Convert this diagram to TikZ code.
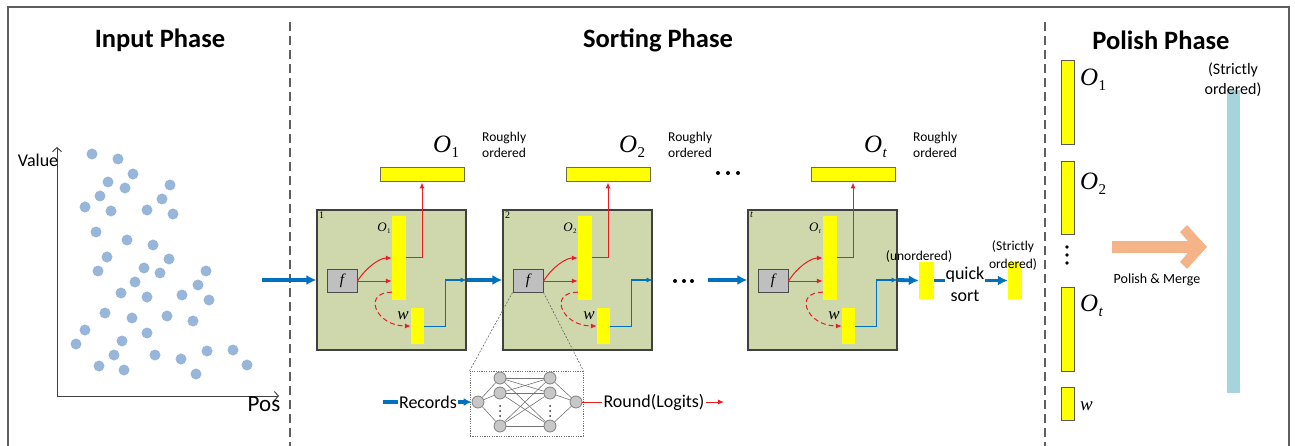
\documentclass[tikz,border=0pt]{standalone}
\usepackage{fontspec}
\setmainfont{Carlito}
\newfontfamily\tnr{Liberation Serif}
\usetikzlibrary{arrows.meta,calc}

\definecolor{dotblue}{RGB}{152,182,218}
\definecolor{stagegreen}{RGB}{206,216,172}
\definecolor{arrowblue}{RGB}{0,112,192}
\definecolor{barred}{RGB}{235,28,36}
\definecolor{baryellow}{RGB}{255,255,0}
\definecolor{mergeorange}{RGB}{244,180,136}
\definecolor{strictteal}{RGB}{165,213,218}
\definecolor{framegray}{RGB}{95,95,95}

% italic O with a subscript: #1 size of O, #2 size of index, #3 index, #4 drop of index
\newcommand\Olab[4]{{\tnr\fontsize{#1}{#1}\selectfont\itshape O}\kern0.3pt\raisebox{-#4pt}{\tnr\fontsize{#2}{#2}\selectfont #3}}

% one sorting stage: #1 name prefix, #2 left edge, #3 corner label, #4 index
\newcommand\stage[4]{%
\begin{scope}[shift={(#2,0)}]
  \node[greenbox] (#1box) at (74.5,280) {};
  \node[numlab] (#1num) at (2,212) {#3};
  \node[fbox] (#1f) at (25,281) {\tnr\itshape\fontsize{15}{15}\selectfont f};
  \node[ybar, minimum width=14pt, minimum height=84pt] (#1o) at (82,258) {};
  \node[ybar, minimum width=13pt, minimum height=36pt] (#1w) at (100.5,326) {};
  \node[topbar] (#1top) at (105,175) {};
  \node[inner sep=0] (#1ol) at (67,228) {\Olab{13}{7}{#4}{2.5}};
  \node[inner sep=0] (#1wl) at (86,316) {\tnr\itshape\fontsize{17}{17}\selectfont w};
  \node[inner sep=0, anchor=base west] (#1big) at (116,153) {\Olab{25}{15}{#4}{5}};
  \node[rough] (#1rough) at (165,132) {Roughly\\ordered};
  \draw[redarrow] (#1f.east) .. controls +(9,-14) and +(-12,0) .. (#1o.west);
  \draw[redarrow] (#1f.east) -- (#1f.east -| #1o.west);
  \draw[redarrow] (#1o.east) -| (#1top.south);
  \draw[reddash] ([yshift=8pt]#1o.south west) .. controls +(-30,0) and +(-35,0) .. (#1w.west);
  \draw[bluethin] (#1w.east) -- ++(21,0) |- (#1box.east);
\end{scope}}

\begin{document}
\begin{tikzpicture}[x=1pt,y=-1pt,
  frameline/.style={draw=framegray, line width=1.8pt},
  sepline/.style={draw=framegray, line width=1.2pt, dash pattern=on 9pt off 5pt},
  title/.style={font=\bfseries\fontsize{26.5}{26.5}\selectfont, inner sep=0},
  dot/.style={circle, fill=dotblue, inner sep=0, minimum size=11pt},
  axis/.style={draw=black!75, line width=0.9pt, -{Straight Barb[length=4pt,width=9pt]}},
  greenbox/.style={draw=black!75, line width=1.3pt, fill=stagegreen, minimum width=149pt, minimum height=140pt, inner sep=0},
  numlab/.style={anchor=north west, inner sep=0, font=\tnr\fontsize{10}{10}\selectfont},
  fbox/.style={draw=black!70, fill=black!25, line width=1pt, minimum width=30pt, minimum height=22pt, inner sep=0},
  ybar/.style={fill=baryellow, inner sep=0},
  topbar/.style={fill=baryellow, draw=black!65!yellow, line width=1pt, minimum width=84pt, minimum height=14pt, inner sep=0},
  pbar/.style={fill=baryellow, draw=black!65, line width=0.9pt, minimum width=13pt, inner sep=0},
  rough/.style={anchor=north west, align=left, inner sep=0, font=\fontsize{13.5}{16}\selectfont},
  redarrow/.style={draw=barred, line width=1pt, -{Latex[length=6pt,width=5pt]}},
  redline/.style={draw=barred, line width=1pt},
  reddash/.style={draw=barred, line width=1pt, dash pattern=on 5pt off 3pt, -{Latex[length=6pt,width=5pt]}},
  bluethin/.style={draw=arrowblue, line width=1pt, -{Latex[length=6pt,width=5pt]}},
  thickblue/.style={draw=arrowblue, line width=3.8pt, -{Latex[length=10pt,width=10pt]}},
  thickbar/.style={draw=arrowblue, line width=3.8pt},
  bdot/.style={circle, fill=black, inner sep=0, minimum size=4pt},
  sdot/.style={circle, fill=black!80, inner sep=0, minimum size=2pt},
  neuron/.style={circle, draw=black!50, fill=black!22, line width=0.8pt, minimum size=12pt, inner sep=0},
  link/.style={draw=black!55, line width=0.6pt},
  zoomline/.style={draw=black!60, line width=0.6pt, dash pattern=on 2pt off 1.5pt},
  txt/.style={inner sep=0}
]
\useasboundingbox (0,0) rectangle (1295,446);

% frame and phase separators
\draw[frameline] (8,446) -- (8,7) -- (1289,7) -- (1289,446);
\coordinate (sepA0) at (290,22); \coordinate (sepA1) at (290,446);
\coordinate (sepB0) at (1045,22); \coordinate (sepB1) at (1045,446);
\draw[sepline] (sepA0) -- (sepA1);
\draw[sepline] (sepB0) -- (sepB1);

\node[title] (t1) at (160,40) {Input Phase};
\node[title] (t2) at (658,40) {Sorting Phase};
\node[title] (t3) at (1161,40) {Polish Phase};

% ---- input phase: scatter of records
\foreach \x/\y [count=\i] in {92/154,118/159,133/174,108/182,125/188,170/185,100/196,162/199,
  85/207,111/211,147/210,173/214,96/232,127/240,153/245,107/257,169/259,98/271,144/268,160/273,
  206/271,135/282,198/285,121/293,147/297,182/295,209/300,105/313,132/318,167/316,193/321,85/330,
  147/333,76/344,122/341,114/355,155/355,207/351,233/350,99/366,124/370,181/359,196/374,247/365}
  \node[dot] (p\i) at (\x,\y) {};

\coordinate (origin) at (57,396);
\coordinate (ytip) at (57,147);
\coordinate (xtip) at (279,396);
\draw[axis] (origin) -- (ytip);
\draw[axis] (origin) -- (xtip);
\node[txt, font=\fontsize{18}{18}\selectfont] (vlab) at (38,160) {Value};
\node[txt, font=\fontsize{23}{23}\selectfont] (plab) at (264,404) {Pos};

% ---- sorting phase
\stage{s1}{317}{1}{1}
\stage{s2}{503}{2}{2}
\stage{st}{748}{\itshape t}{\itshape t}

\coordinate (in0) at (262,280);
\draw[thickblue] (in0) -- (s1box.west);
\draw[thickblue] (s1box.east) -- (s2box.west);

\node[bdot] (m1) at (675,281) {};
\node[bdot] (m2) at (684,281) {};
\node[bdot] (m3) at (692,281) {};
\node[bdot] (u1) at (718,173) {};
\node[bdot] (u2) at (728,173) {};
\node[bdot] (u3) at (738,173) {};
\coordinate (pre) at (708,280);
\draw[thickblue] (pre) -- (stbox.west);

\node[ybar, minimum width=15pt, minimum height=37pt] (ub) at (926.5,280.5) {};
\node[ybar, minimum width=14pt, minimum height=37pt] (sb) at (1015,280.5) {};
\node[txt, font=\fontsize{13.5}{13.5}\selectfont] (unord) at (919,256) {(unordered)};
\node[txt, align=center, font=\fontsize{18}{22}\selectfont] (qs) at (965,284) {quick\\sort};
\node[txt, align=center, font=\fontsize{13.5}{18}\selectfont] (strict1) at (1013,256) {(Strictly\\ordered)};
\draw[thickblue] (stbox.east) -- (ub.west);
\draw[thickbar] (ub.east) -- (ub.east -| qs.west);
\draw[thickblue] (sb.west -| qs.east) -- (sb.west);

% network behind the scoring function
\node[draw=black!55, line width=0.7pt, dash pattern=on 1.2pt off 1.2pt, minimum width=113pt, minimum height=65pt, inner sep=0] (nnbox) at (526.5,403.5) {};
\draw[zoomline] (s2f.south west) -- (nnbox.north west);
\draw[zoomline] (s2f.south east) -- (nnbox.north east);
\node[neuron] (nin) at (478,402) {};
\node[neuron] (ha) at (500,378) {};
\node[neuron] (hb) at (500,393) {};
\node[neuron] (hc) at (500,426) {};
\node[neuron] (ga) at (550,378) {};
\node[neuron] (gb) at (550,393) {};
\node[neuron] (gc) at (550,426) {};
\node[neuron] (nout) at (576,402) {};
\foreach \h in {ha,hb,hc} {
  \draw[link] (nin) -- (\h);
  \foreach \g in {ga,gb,gc} \draw[link] (\h) -- (\g);
}
\foreach \g in {ga,gb,gc} \draw[link] (\g) -- (nout);
\foreach \yy [count=\k] in {406,411,416} {
  \node[sdot] (vd\k) at (500,\yy) {};
  \node[sdot] (wd\k) at (550,\yy) {};
}
\node[txt, font=\fontsize{18}{18}\selectfont] (rec) at (428,402) {Records};
\coordinate (rec0) at (383,402);
\draw[thickbar] (rec0) -- ([xshift=-1pt]rec.west);
\draw[thickblue, -{Latex[length=8pt,width=8pt]}] ([xshift=1pt]rec.east) -- (nin.west);
\node[txt, font=\fontsize{18}{18}\selectfont] (rl) at (654,402) {Round(Logits)};
\coordinate (rlend) at (724,402);
\draw[redline] (nout.east) -- ([xshift=-1pt]rl.west);
\draw[redarrow] ([xshift=1pt]rl.east) -- (rlend);

% ---- polish phase
\node[pbar, minimum height=84pt] (pb1) at (1067.5,102) {};
\node[pbar, minimum height=73pt] (pb2) at (1067.5,197.5) {};
\node[pbar, minimum height=84pt] (pbt) at (1067.5,329) {};
\node[pbar, minimum height=33pt] (pbw) at (1067.5,403.5) {};
\node[txt, anchor=base west] (pl1) at (1080,86) {\Olab{25}{15}{1}{5}};
\node[txt, anchor=base west] (pl2) at (1080,190) {\Olab{25}{15}{2}{5}};
\node[txt, anchor=base west] (plt) at (1080,311) {\Olab{25}{15}{\itshape t}{5}};
\node[txt, anchor=base west] (plw) at (1080,410) {\tnr\itshape\fontsize{19}{19}\selectfont w};
\node[bdot, minimum size=3.6pt] (pd1) at (1067,247) {};
\node[bdot, minimum size=3.6pt] (pd2) at (1067,255) {};
\node[bdot, minimum size=3.6pt] (pd3) at (1067,263) {};

\node[fill=strictteal, inner sep=0, minimum width=13pt, minimum height=303pt] (tb) at (1233.5,241.5) {};
\node[txt, align=center, font=\fontsize{16}{20.5}\selectfont] (strict2) at (1233,80) {(Strictly\\ordered)};

% polish & merge arrow
\coordinate (ma) at (1112,247);
\fill[mergeorange] (ma) ++(0,-6) -- (1197,241) -- (1197,253) -- (1112,253) -- cycle;
\fill[mergeorange] (1207,247) -- (1187,225) -- (1180,232) -- (1193,247) -- (1180,262) -- (1187,269) -- cycle;
\node[txt, font=\fontsize{14}{14}\selectfont] (pm) at (1157,280) {Polish \& Merge};
\end{tikzpicture}
\end{document}
